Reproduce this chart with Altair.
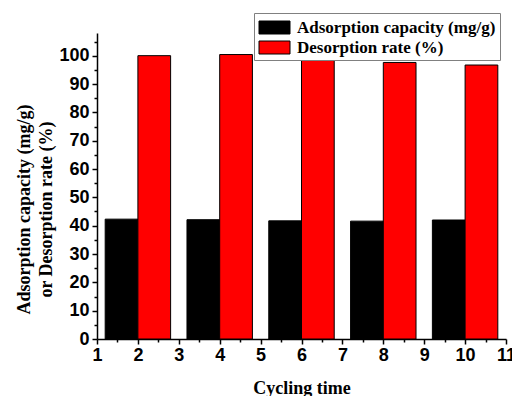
import altair as alt
import pandas as pd

# Cycle positions on the x axis and the two measured series
positions = [2, 4, 6, 8, 10]
adsorption = [42.3, 42.1, 41.7, 41.6, 42.0]      # mg/g
desorption = [100.0, 100.4, 99.9, 97.6, 96.7]    # %

series_names = ["Adsorption capacity (mg/g)", "Desorption rate (%)"]
series_colors = ["#000000", "#ff0000"]
bar_width = 0.8

rows = []
for p, a, d in zip(positions, adsorption, desorption):
    rows.append({"pos": p, "series": series_names[0], "value": a,
                 "x0": p - bar_width, "x1": p})
    rows.append({"pos": p, "series": series_names[1], "value": d,
                 "x0": p, "x1": p + bar_width})
df = pd.DataFrame(rows)

x_major = list(range(1, 12))
x_minor = [v + 0.5 for v in range(1, 11)]
y_major = list(range(0, 101, 10))
y_minor = list(range(5, 106, 10))

x_scale = alt.Scale(domain=[1, 11], nice=False, zero=False)
y_scale = alt.Scale(domain=[0, 108], nice=False)

tick_font = "Liberation Sans"
title_font = "Liberation Serif"

bars = alt.Chart(df).mark_rect(stroke="#000000", strokeWidth=1).encode(
    x=alt.X("x0:Q", scale=x_scale, axis=alt.Axis(
        values=x_major, format="d", title="Cycling time", orient="bottom",
        tickSize=5, tickWidth=1.5, domainWidth=1.5, labelPadding=2,
        labelFlush=False,
        labelFont=tick_font, labelFontSize=18, labelFontWeight="bold",
        titleFont=title_font, titleFontSize=18, titleFontWeight="bold",
        titleBaseline="top", titleY=40, grid=False)),
    x2="x1:Q",
    y=alt.Y("value:Q", scale=y_scale, axis=alt.Axis(
        values=y_major, format="d", orient="left",
        title=["Adsorption capacity (mg/g)", "or Desorption rate (%)"],
        tickSize=5, tickWidth=1.5, domainWidth=1.5, labelPadding=3,
        labelFlush=False,
        labelFont=tick_font, labelFontSize=18, labelFontWeight="bold",
        titleFont=title_font, titleFontSize=18, titleFontWeight="bold",
        titleAngle=-90, titleAlign="center", titleBaseline="top",
        titleLineHeight=22, titleX=-82, titleY=176, grid=False)),
    y2=alt.datum(0),
    color=alt.Color("series:N",
                    scale=alt.Scale(domain=series_names, range=series_colors),
                    legend=alt.Legend(
                        title=None, orient="none", legendX=157, legendY=-20,
                        direction="vertical",
                        symbolType="M-1.55,-0.65H1.55V0.65H-1.55Z",
                        symbolSize=400, symbolStrokeColor="#000000",
                        symbolStrokeWidth=1, symbolOpacity=1,
                        symbolOffset=6, labelLimit=0,
                        labelFont=title_font, labelFontSize=17,
                        labelFontWeight="bold", labelColor="#000000",
                        labelOffset=12, rowPadding=1, padding=4,
                        fillColor="#ffffff", strokeColor="#808080")),
)

# Minor tick marks on both axes
minor = alt.Chart(df).mark_point(opacity=0).encode(
    x=alt.X("x0:Q", scale=x_scale, axis=alt.Axis(
        values=x_minor, orient="bottom", labels=False, domain=False,
        tickSize=3, tickWidth=1.5, title=None, grid=False)),
    y=alt.Y("value:Q", scale=y_scale, axis=alt.Axis(
        values=y_minor, orient="left", labels=False, domain=False,
        tickSize=3, tickWidth=1.5, title=None, grid=False)),
)

chart = alt.layer(bars, minor).resolve_axis(
    x="independent", y="independent"
).properties(
    width=409, height=306,
    autosize=alt.AutoSizeParams(type="none"),
    padding={"left": 97, "top": 33, "right": 6, "bottom": 57},
).configure_view(stroke=None).configure_axis(
    domainColor="#000000", tickColor="#000000",
    labelColor="#000000", titleColor="#000000",
)

chart.save("out.html", embed_options={"renderer": "svg", "actions": False})
